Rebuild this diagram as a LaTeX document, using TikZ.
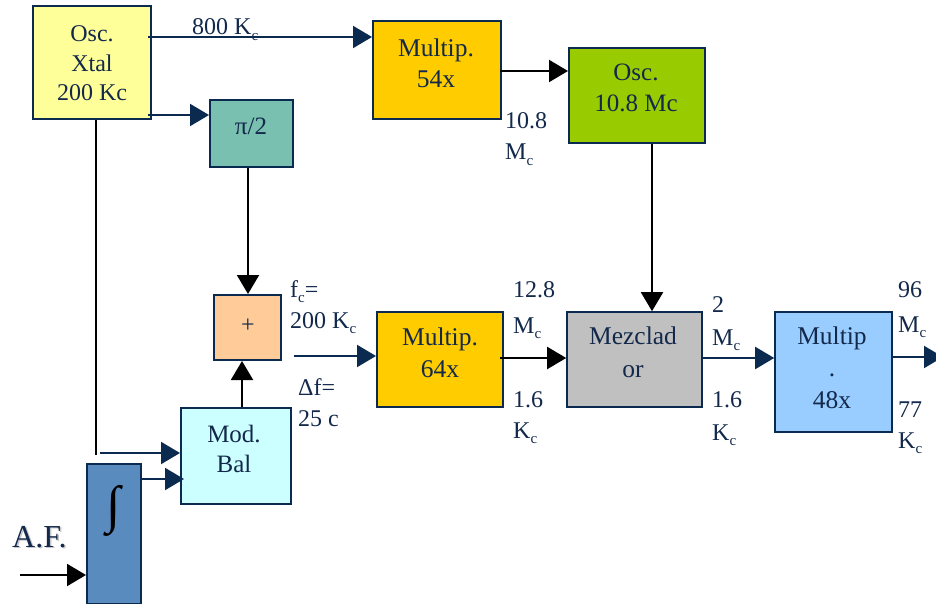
\documentclass[tikz,border=0pt]{standalone}
\usepackage{fontspec}
\usepackage{graphicx}
\setmainfont{Liberation Serif}
\usetikzlibrary{arrows.meta,calc}

\definecolor{ink}{HTML}{13294B}
\definecolor{edge}{HTML}{0A2A4F}
\definecolor{xtalfill}{HTML}{FFFF99}
\definecolor{tealfill}{HTML}{79C0B0}
\definecolor{multfill}{HTML}{FFCC00}
\definecolor{greenfill}{HTML}{99CC00}
\definecolor{peachfill}{HTML}{FFCC99}
\definecolor{cyanfill}{HTML}{CCFFFF}
\definecolor{integfill}{HTML}{5A8BBE}
\definecolor{grayfill}{HTML}{C0C0C0}
\definecolor{bluefill}{HTML}{99CCFF}

% small lowered "c" used as a subscript in the frequency labels
\newcommand\lowc{\raisebox{-0.22em}{\fontsize{15}{15}\selectfont c}}

\begin{document}
\begin{tikzpicture}[x=1pt,y=-1pt,
  font=\fontsize{24}{31}\selectfont, text=ink,
  box/.style={draw=edge, line width=2pt, inner sep=0pt},
  btxt/.style={anchor=base, align=center, inner sep=0pt},
  lbl/.style={anchor=base west, inner sep=0pt},
  navyarr/.style={draw=edge, line width=2pt, -{Triangle[length=19pt,width=22pt]}},
  blackarr/.style={draw=black, line width=2pt, -{Triangle[length=19pt,width=22pt]}},
  blackline/.style={draw=black, line width=2pt}]

\fill[white] (0,0) rectangle (936,604);
\useasboundingbox (0,0) rectangle (936,604);
\clip (0,0) rectangle (936,604);

% blocks
\node[box, fill=xtalfill,  minimum width=118pt, minimum height=113pt] (xtal)   at (92,62.5)   {};
\node[box, fill=tealfill,  minimum width=83pt,  minimum height=67pt]  (half)   at (251.5,133.5) {};
\node[box, fill=multfill,  minimum width=128pt, minimum height=98pt]  (m54)    at (437,70)    {};
\node[box, fill=greenfill, minimum width=136pt, minimum height=95pt]  (osc)    at (637,95.5)  {};
\node[box, fill=peachfill, minimum width=67pt,  minimum height=65pt]  (plus)   at (247.5,327.5) {};
\node[box, fill=cyanfill,  minimum width=110pt, minimum height=96pt]  (modbal) at (236,456)   {};
\node[box, fill=integfill, minimum width=54pt,  minimum height=140pt] (integ)  at (114,534)   {};
\node[box, fill=multfill,  minimum width=126pt, minimum height=95pt]  (m64)    at (440,359.7) {};
\node[box, fill=grayfill,  minimum width=135pt, minimum height=95pt]  (mez)    at (634.7,359.7) {};
\node[box, fill=bluefill,  minimum width=117pt, minimum height=120pt] (m48)    at (833.7,371.8) {};

% block texts (anchored on the baseline of their last line)
\node[btxt, font=\fontsize{24}{29.5}\selectfont] (xtal-t) at (92,101) {Osc.\\Xtal\\200 Kc};
\node[btxt, font=\fontsize{25}{31}\selectfont] (half-t) at (251,135) {π/2};
\node[btxt, font=\fontsize{25.5}{31}\selectfont] (m54-t) at (436,88) {Multip.\\54x};
\node[btxt, font=\fontsize{25}{31}\selectfont] (osc-t) at (636,112) {Osc.\\10.8 Mc};
\node[btxt] (plus-t) at (248,332) {+};
\node[btxt, font=\fontsize{25}{30}\selectfont] (modbal-t) at (234,472) {Mod.\\Bal};
\node[btxt, font=\fontsize{25.5}{32}\selectfont] (m64-t) at (440,377) {Multip.\\64x};
\node[btxt, font=\fontsize{25.5}{33}\selectfont] (mez-t) at (633,377) {Mezclad\\or};
\node[btxt, font=\fontsize{25.5}{32}\selectfont] (m48-t) at (832,408) {Multip\\.\\48x};
\node[inner sep=0pt, text=black, font=\fontsize{52}{52}\bfseries] (integ-t) at (114,511) {∫};

% input label with its soft shadow
\node[lbl, text=black!22, font=\fontsize{32}{32}\selectfont] (af-shadow) at (13.5,548.5) {A.F.};
\node[lbl, font=\fontsize{32}{32}\selectfont] (af) at (12,547) {A.F.};

% free ends
\coordinate (tap) at (96,455);
\coordinate (out) at (943,357);
\coordinate (afin) at (20,575);

% connectors
\draw[navyarr]  ($(xtal.north east)+(-4,32)$) -- (m54.west |- 0,37);
\draw[navyarr]  ($(xtal.south east)+(-4,-5)$) -- (half.west |- 0,115);
\draw[blackarr] ($(m54.east)+(-2,1)$) -- (osc.west |- 0,71);
\draw[blackarr] (osc.south -| 652,0) -- (mez.north -| 652,0);
\draw[blackarr] (half.south -| 248,0) -- (plus.north -| 248,0);
\draw[blackarr] (modbal.north -| 242,0) -- (plus.south -| 242,0);
\draw[navyarr]  ($(plus.east |- 0,356)+(12,0)$) -- (m64.west |- 0,356);
\draw[blackarr] ($(m64.east |- 0,358)+(-4,0)$) -- (mez.west |- 0,358);
\draw[navyarr]  (mez.east |- 0,358) -- (m48.west |- 0,358);
\draw[navyarr]  (m48.east |- 0,357) -- (out);
\draw[blackline] (xtal.south -| tap) -- (tap);
\draw[navyarr]  ($(tap)+(4,-2)$) -- (modbal.west |- 0,453);
\draw[navyarr]  ($(integ.east |- 0,479)+(-2,0)$) -- ($(modbal.west |- 0,479)+(4,0)$);
\draw[blackarr] (afin) -- (integ.west |- afin);

% frequency labels
\node[lbl] (l800)  at (192,35)  {800 K\lowc};
\node[lbl] (l108a) at (505,129) {10.8};
\node[lbl] (l108b) at (505,160) {M\lowc};
\node[lbl] (lfca)  at (290,297) {f\lowc=};
\node[lbl] (lfcb)  at (290,328) {200 K\lowc};
\node[lbl] (ldfa)  at (298,395) {Δf=};
\node[lbl] (ldfb)  at (298,426) {25 c};
\node[lbl] (l128a) at (513,297) {12.8};
\node[lbl] (l128b) at (513,333) {M\lowc};
\node[lbl] (l16a)  at (513,407) {1.6};
\node[lbl] (l16b)  at (513,438) {K\lowc};
\node[lbl] (l2a)   at (712,312) {2};
\node[lbl] (l2b)   at (712,345) {M\lowc};
\node[lbl] (l16c)  at (712,407) {1.6};
\node[lbl] (l16d)  at (712,440) {K\lowc};
\node[lbl] (l96a)  at (898,297) {96};
\node[lbl] (l96b)  at (898,332) {M\lowc};
\node[lbl] (l77a)  at (898,417) {77};
\node[lbl] (l77b)  at (898,448) {K\lowc};
\end{tikzpicture}
\end{document}
